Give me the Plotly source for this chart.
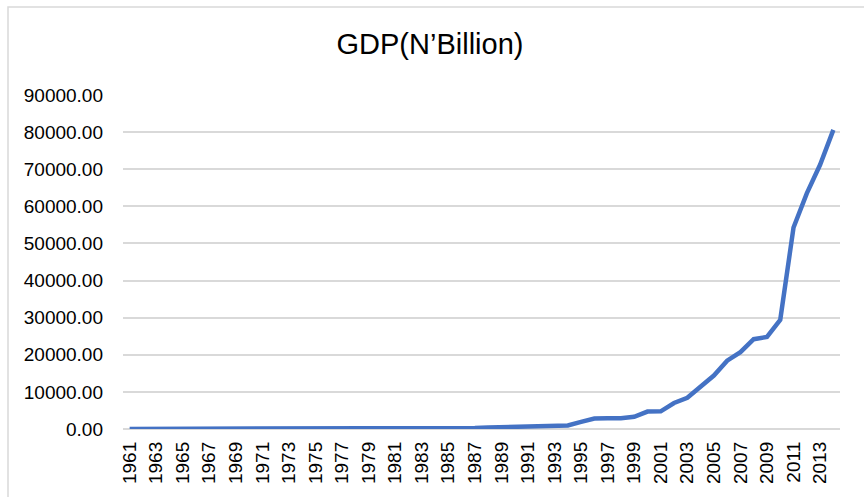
import plotly.graph_objects as go

years = list(range(1961, 2015))
gdp = [2.4, 2.6, 2.8, 2.9, 3.1, 3.4, 3.0, 2.9, 3.6, 5.3,
       6.6, 7.2, 8.9, 14.6, 17.1, 21.8, 27.6, 32.2, 38.0, 49.6,
       47.6, 49.1, 53.1, 59.6, 67.9, 69.1, 300.0, 400.0, 450.0, 480.0,
       500.0, 600.0, 900.0, 950.0, 1900.0, 2800.0, 2900.0, 2900.0, 3300.0, 4700.0,
       4750.0, 7000.0, 8400.0, 11300.0, 14400.0, 18400.0, 20700.0, 24200.0, 24800.0, 29400.0,
       54300.0, 63500.0, 71200.0, 80600.0]
tick_years = list(range(1961, 2014, 2))
title_text = "GDP(N\u2019Billion)"

W, H = 864, 497
ML, MR, MT, MB = 123, 24, 95, 68
pw = W - ML - MR
ph = H - MT - MB

def px_x(p):
    return (p - ML) / pw

def px_y(p):
    return (H - MB - p) / ph

fig = go.Figure()
fig.add_trace(go.Scatter(
    x=years, y=gdp, mode="lines",
    line=dict(color="#4472C4", width=4.5),
    hoverinfo="skip", showlegend=False,
))

fig.update_layout(
    width=W, height=H,
    margin=dict(l=ML, r=MR, t=MT, b=MB, pad=0),
    paper_bgcolor="white", plot_bgcolor="white",
    font=dict(family="Liberation Sans, Arial, sans-serif", color="#000000", size=19),
    title=dict(text=title_text, x=430 / W, xanchor="center",
               y=1 - 44 / H, yanchor="middle",
               font=dict(size=29, color="#000000")),
    xaxis=dict(
        range=[1960.5, 2014.5], tickmode="array", tickvals=tick_years,
        ticktext=[str(v) for v in tick_years], tickangle=-90,
        showgrid=False, zeroline=False, showline=False, ticks="",
        ticklabelstandoff=8,
        tickfont=dict(size=19), fixedrange=True,
    ),
    yaxis=dict(
        range=[0, 90000], dtick=10000, tick0=0, tickformat=".2f",
        showgrid=True, gridcolor="#D9D9D9", gridwidth=1.5,
        zeroline=True, zerolinecolor="#D9D9D9", zerolinewidth=1.5,
        showline=False, ticks="", ticklabelstandoff=19,
        tickfont=dict(size=19), fixedrange=True,
    ),
    shapes=[dict(
        type="rect", xref="paper", yref="paper",
        x0=px_x(8), x1=px_x(W + 20), y0=px_y(H + 20), y1=px_y(7),
        line=dict(color="#D9D9D9", width=1.5), fillcolor="rgba(0,0,0,0)",
        layer="below",
    )],
)

fig.write_html("out.html")
